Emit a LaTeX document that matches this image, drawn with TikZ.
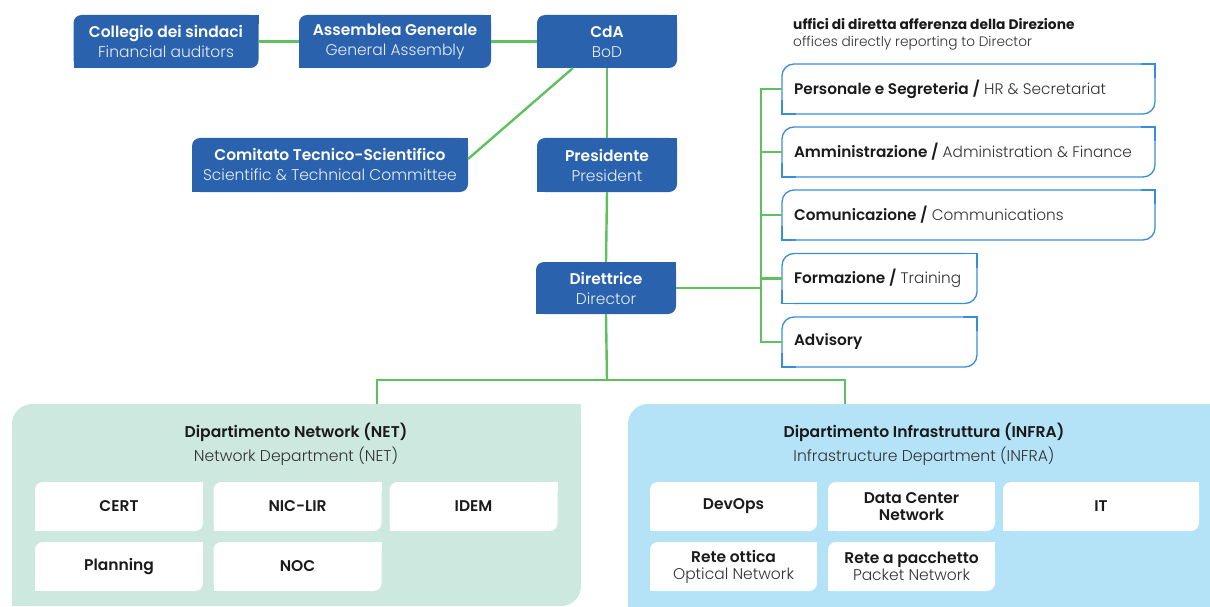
\documentclass[tikz,border=0pt]{standalone}
\usepackage{fontspec}
\setmainfont{Poppins}[UprightFont={* Light}, BoldFont={* SemiBold}]
\newfontfamily\popheavy{Poppins}
\usetikzlibrary{calc}
\definecolor{boxblue}{RGB}{42,98,174}
\definecolor{lgreen}{RGB}{95,192,95}
\definecolor{netbg}{RGB}{205,232,222}
\definecolor{infrabg}{RGB}{180,227,248}
\definecolor{edgeblue}{RGB}{58,141,219}
\definecolor{ink}{RGB}{26,26,26}
\definecolor{subink}{RGB}{50,50,50}
\definecolor{subwhite}{RGB}{232,238,248}
\tikzset{
  bluebox/.style={fill=boxblue, rounded corners=8pt, text=white, align=center,
    inner sep=0pt, outer sep=0pt, font=\fontsize{15.5}{20}\selectfont},
  officebox/.style={draw=edgeblue, line width=1.3pt, fill=white, rounded corners=12pt,
    align=left, inner xsep=12pt, inner ysep=0pt, outer sep=0pt, text=ink,
    minimum height=50pt, font=\fontsize{15.3}{17}\selectfont},
  panel/.style={rounded corners=20pt, inner sep=0pt, outer sep=0pt},
  unitbox/.style={fill=white, rounded corners=8pt, align=center, inner sep=0pt,
    outer sep=0pt, text=ink, minimum height=49pt, font=\fontsize{15.5}{17}\selectfont},
  conn/.style={draw=lgreen, line width=2.4pt},
  depttitle/.style={align=center, inner sep=0pt, text=ink, font=\fontsize{15.6}{24}\selectfont},
}
\newcommand\sharpfill[3]{%
  \fill[#2] (#1.north east) rectangle ++(-#3,#3);
  \fill[#2] (#1.south west) rectangle ++(#3,-#3);}
\newcommand\sharpedge[1]{%
  \fill[white] (#1.north east) rectangle ++(-13,13);
  \fill[white] (#1.south west) rectangle ++(13,-13);
  \draw[edgeblue, line width=1.3pt] ($(#1.north east)+(-14,0)$) -- (#1.north east) -- ++(0,14);
  \draw[edgeblue, line width=1.3pt] ($(#1.south west)+(14,0)$) -- (#1.south west) -- ++(0,-14);}
\begin{document}
\begin{tikzpicture}[x=1pt,y=-1pt]
\useasboundingbox (0,0) rectangle (1210,607);

% panels
\node[panel, fill=netbg, minimum width=569pt, minimum height=202pt] (net) at (296.5,505) {};
\sharpfill{net}{netbg}{20}
\node[panel, fill=infrabg, minimum width=602pt, minimum height=216pt] (infra) at (929,512) {};
\sharpfill{infra}{infrabg}{20}

% top blue boxes
\node[bluebox, minimum width=185pt, minimum height=53pt] (coll) at (166,41.5)
  {\textbf{Collegio dei sindaci}\\\color{subwhite}Financial auditors};
\node[bluebox, minimum width=192pt, minimum height=53pt] (ass) at (395,41.5)
  {\textbf{Assemblea Generale}\\\color{subwhite}General Assembly};
\node[bluebox, minimum width=140pt, minimum height=53pt] (cda) at (607,41.5)
  {\textbf{CdA}\\\color{subwhite}BoD};
\node[bluebox, minimum width=276pt, minimum height=54pt] (cts) at (330,165)
  {\textbf{Comitato Tecnico-Scientifico}\\\color{subwhite}Scientific \& Technical Committee};
\node[bluebox, minimum width=140pt, minimum height=54pt] (pres) at (607,165)
  {\textbf{Presidente}\\\color{subwhite}President};
\node[bluebox, minimum width=140pt, minimum height=52pt] (dir) at (606,288)
  {\textbf{Direttrice}\\\color{subwhite}Director};
\foreach \n in {coll,ass,cda,cts,pres,dir}{\sharpfill{\n}{boxblue}{9}}

% header of offices
\node[anchor=west, inner sep=0pt, text=ink, font=\popheavy\bfseries\fontsize{13.8}{15}\selectfont] (hdr1) at (793,24)
  {uffici di diretta afferenza della Direzione};
\node[anchor=west, inner sep=0pt, text=subink, font=\fontsize{13.7}{15}\selectfont] (hdr2) at (793,43)
  {offices directly reporting to Director};

% office boxes
\node[officebox, minimum width=373pt] (pers) at (968.5,89)
  {\makebox[349pt][l]{\textbf{Personale e Segreteria /} \color{subink}HR \& Secretariat}};
\node[officebox, minimum width=373pt] (amm) at (968.5,152)
  {\makebox[349pt][l]{\textbf{Amministrazione /} \color{subink}Administration \& Finance}};
\node[officebox, minimum width=373pt] (com) at (968.5,215)
  {\makebox[349pt][l]{\textbf{Comunicazione /} \color{subink}Communications}};
\node[officebox, minimum width=195pt] (form) at (879.5,278.5)
  {\makebox[171pt][l]{\textbf{Formazione /} \color{subink}Training}};
\node[officebox, minimum width=195pt] (adv) at (879.5,342)
  {\makebox[171pt][l]{\textbf{Advisory}}};
\foreach \n in {pers,amm,com,form,adv}{\sharpedge{\n}}

% connectors
\coordinate (bb) at (761,342);
\coordinate (bus) at (607,380);
\coordinate (netin) at (377,404);
\coordinate (infrain) at (845,404);
\draw[conn] (coll.east) -- (ass.west);
\draw[conn] (ass.east) -- (cda.west);
\draw[conn] ($(cda.south)+(-34,0)$) -- ($(cts.east)+(0,-6)$);
\draw[conn] (cda.south) -- (pres.north);
\draw[conn] (pres.south) -- (dir.north);
\draw[conn] (pers.west) -| (bb) -- (adv.west);
\foreach \n in {amm,com,form}{\draw[conn] (\n.west) -- (\n.west -| bb);}
\draw[conn] (dir.east) -- (dir.east -| bb);
\draw[conn] (dir.south) -- (bus);
\draw[conn] (netin) |- (bus) -| (infrain);

% department titles
\node[depttitle] (nett) at (296,444)
  {\textbf{Dipartimento Network (NET)}\\\color{subink}Network Department (NET)};
\node[depttitle] (infrat) at (924,444)
  {\textbf{Dipartimento Infrastruttura (INFRA)}\\\color{subink}Infrastructure Department (INFRA)};

% NET units
\node[unitbox, minimum width=168pt] (cert) at (119,506.5) {\textbf{CERT}};
\node[unitbox, minimum width=168pt] (nic) at (297.5,506.5) {\textbf{NIC-LIR}};
\node[unitbox, minimum width=168pt] (idem) at (473.5,506.5) {\textbf{IDEM}};
\node[unitbox, minimum width=168pt] (plan) at (119,566.5) {\textbf{Planning}};
\node[unitbox, minimum width=168pt] (noc) at (297.5,566.5) {\textbf{NOC}};
% INFRA units
\node[unitbox, minimum width=167pt] (devops) at (733.5,506.5) {\textbf{DevOps}};
\node[unitbox, minimum width=167pt] (dcn) at (911.5,506.5) {\textbf{Data Center}\\\textbf{Network}};
\node[unitbox, minimum width=196pt] (it) at (1101,506.5) {\textbf{IT}};
\node[unitbox, minimum width=167pt] (ottica) at (733.5,566.5) {\textbf{Rete ottica}\\\color{subink}Optical Network};
\node[unitbox, minimum width=167pt] (pacch) at (911.5,566.5) {\textbf{Rete a pacchetto}\\\color{subink}Packet Network};
\foreach \n in {cert,nic,idem,plan,noc,devops,dcn,it,ottica,pacch}{\sharpfill{\n}{white}{8}}
\end{tikzpicture}
\end{document}
